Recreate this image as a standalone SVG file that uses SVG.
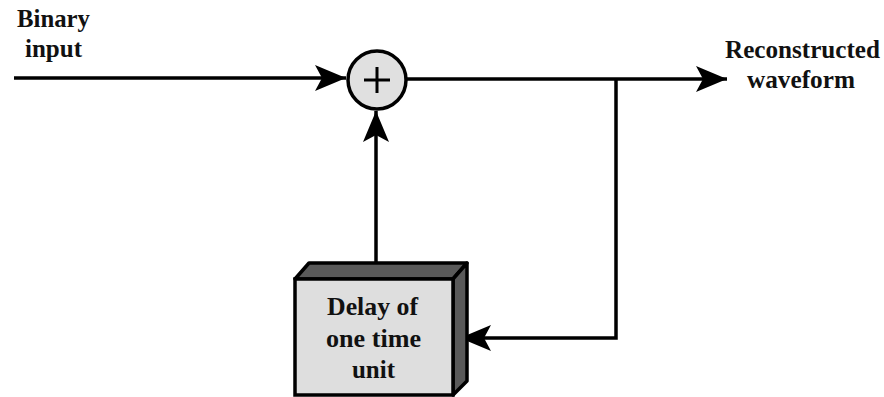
<svg xmlns="http://www.w3.org/2000/svg" width="884" height="397" viewBox="0 0 884 397">
<style>
text{font-family:'Liberation Serif','DejaVu Serif',serif;font-weight:700;font-size:25.5px;fill:#111}
.wire{fill:none;stroke:#000;stroke-width:3.5}
</style>
<defs>
<marker id="arr" markerUnits="userSpaceOnUse" markerWidth="40" markerHeight="30" viewBox="-32 -15 34 30" refX="0" refY="0" orient="auto">
<path d="M0,0 L-31,-13 L-24,0 L-31,13 Z" fill="#000"/>
</marker>
</defs>
<rect width="884" height="397" fill="#fff"/>
<g id="connectors">
<line class="wire" x1="14" y1="78" x2="346" y2="78" marker-end="url(#arr)"/>
<line class="wire" x1="407" y1="79" x2="727" y2="79" marker-end="url(#arr)"/>
<polyline class="wire" points="616,79 616,338 460,338" marker-end="url(#arr)"/>
<line class="wire" x1="376" y1="268" x2="376" y2="111" marker-end="url(#arr)"/>
</g>
<g id="adder">
<circle cx="377" cy="80" r="29" fill="#e0e0e0" stroke="#000" stroke-width="3.5"/>
<path d="M364,80 H390 M377,67 V93" stroke="#000" stroke-width="3" fill="none"/>
</g>
<g id="delay">
<polygon points="295,279 309,263 467,263 453,279" fill="#5a5a5a" stroke="#000" stroke-width="3.5" stroke-linejoin="round"/>
<polygon points="453,279 467,263 467,381 453,395" fill="#5a5a5a" stroke="#000" stroke-width="3.5" stroke-linejoin="round"/>
<rect x="295" y="279" width="158" height="116" fill="#dedede" stroke="#000" stroke-width="3.5"/>
<text x="327" y="315" textLength="91" lengthAdjust="spacingAndGlyphs">Delay of</text>
<text x="326" y="347" textLength="95" lengthAdjust="spacingAndGlyphs">one time</text>
<text x="352" y="378" textLength="43" lengthAdjust="spacingAndGlyphs">unit</text>
</g>
<g id="input-label">
<text x="17" y="27" textLength="73" lengthAdjust="spacingAndGlyphs">Binary</text>
<text x="25" y="57" textLength="57" lengthAdjust="spacingAndGlyphs">input</text>
</g>
<g id="output-label">
<text x="725" y="58" textLength="155" lengthAdjust="spacingAndGlyphs">Reconstructed</text>
<text x="747" y="88" textLength="108" lengthAdjust="spacingAndGlyphs">waveform</text>
</g>
</svg>
